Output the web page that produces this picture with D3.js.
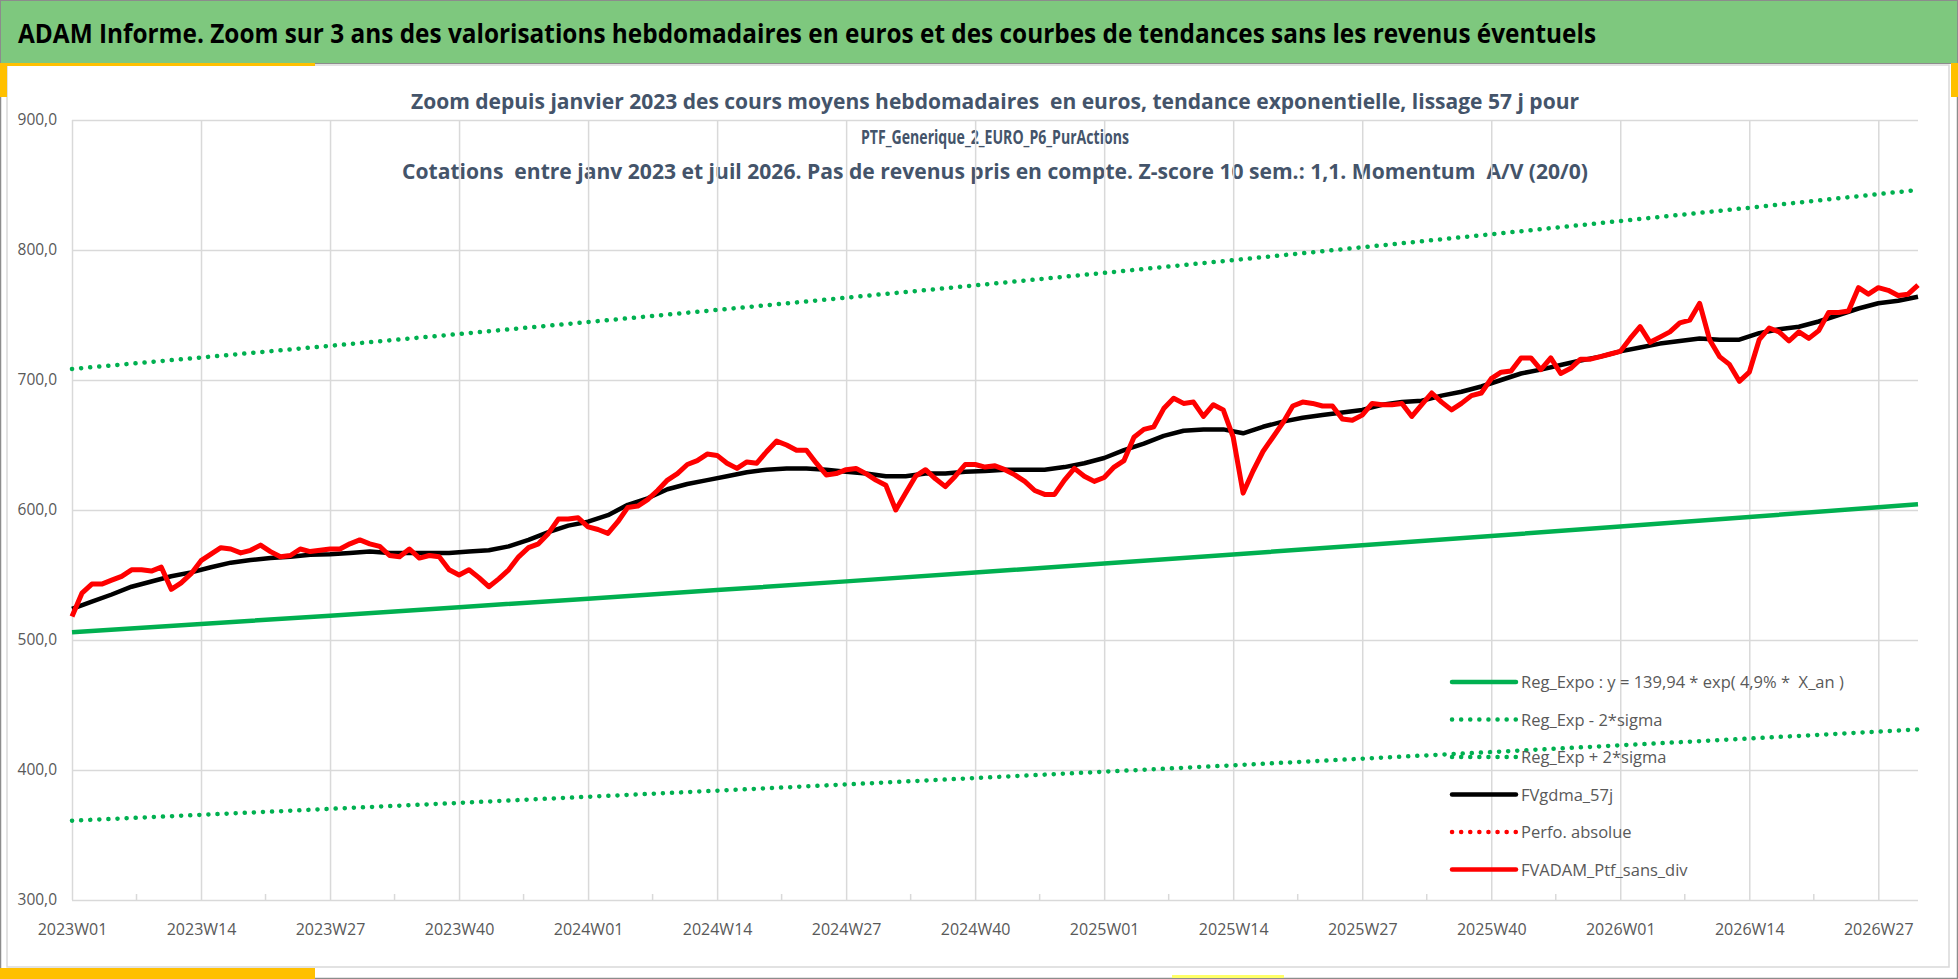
<!doctype html>
<html>
<head>
	<meta charset="UTF-8">
	<title>ADAM Informe - Zoom 3 ans</title>
	<script src="https://d3js.org/d3.v7.min.js"></script>
	<style>
		body { margin: 0; background: #ffffff; }
		svg { display: block; font-family: "Open Sans", "DejaVu Sans", sans-serif; }
		text { white-space: pre; }
	</style>
</head>
<body>
<script>

	// ---- Data ----

	// Weekly categories : years and number of weeks shown in each
	var weekYears = [2023, 2024, 2025, 2026];
	var weeksInYear = [52, 52, 52, 31];

	// Labels shown on the x axis (one every 13 weeks)
	var tickLabels = ["2023W01", "2023W14", "2023W27", "2023W40", "2024W01", "2024W14", "2024W27",
		"2024W40", "2025W01", "2025W14", "2025W27", "2025W40", "2026W01", "2026W14", "2026W27"];

	// Y axis ticks
	var yTicks = [300, 400, 500, 600, 700, 800, 900];

	// Regression curves read at each 13 weeks tick (+ last week)
	var trendWeeks = ["2023W01", "2023W14", "2023W27", "2023W40", "2024W01", "2024W14", "2024W27", "2024W40",
		"2025W01", "2025W14", "2025W27", "2025W40", "2026W01", "2026W14", "2026W27", "2026W31"];
	var regExpo  = [506.0, 512.3, 518.7, 525.2, 531.8, 538.4, 545.1, 551.9, 558.8, 565.8, 572.9, 580.0, 587.3, 594.6, 602.1, 604.4];
	var regMinus = [361.0, 365.5, 370.1, 374.7, 379.4, 384.1, 388.9, 393.8, 398.7, 403.6, 408.7, 413.8, 419.0, 424.2, 429.5, 431.2];
	var regPlus  = [708.5, 717.3, 726.3, 735.4, 744.6, 753.9, 763.3, 772.8, 782.4, 792.2, 802.1, 812.1, 822.3, 832.5, 843.0, 846.2];

	// FVgdma_57j, read every 2 weeks (2023W01, W03, W05 ...)
	var gdma57 = [
		524, 529.5, 535, 541, 545, 549, 552, 556, 559.5, 561.5, 563, 564, 565.5,
		566, 567, 568, 567, 567, 567, 567, 568, 569, 572, 577, 583, 588,
		591, 596, 604, 609, 616, 620, 623, 626, 629, 631, 632, 632, 631,
		629.5, 628, 626, 626, 628, 628, 629.5, 630, 631, 631, 631, 633, 636,
		640, 646, 651, 657, 661, 662, 662, 659, 664, 668, 671, 673, 675,
		677, 681, 683, 684, 688, 691, 695, 700, 705, 708, 711.5, 715, 718,
		722, 725, 728, 730, 732, 731, 731, 736, 739, 741, 745, 750, 755,
		759, 761, 764];

	// FVADAM_Ptf_sans_div, weekly
	var ptfSansDiv = [
		518, 536, 543, 543, 546, 549, 554, 554, 553, 556, 539, 544, 551,
		561, 566, 571, 570, 567, 569, 573, 568, 564, 565, 570, 568, 569,
		570, 570, 574, 577, 574, 572, 565, 564, 570, 563, 565, 564, 554,
		550, 554, 548, 541, 547, 554, 564, 571, 574, 582, 593, 593, 594,
		587, 585, 582, 591, 602, 603, 608, 615, 623, 628, 635, 638, 643,
		642, 636, 632, 637, 636, 645, 653, 650, 646, 646, 636, 627, 628,
		631, 632, 628, 623, 619, 600, 613, 626, 631, 624, 618, 626, 635,
		635, 633, 634, 631, 627, 622, 615, 612, 612, 623, 632, 626, 622,
		625, 633, 638, 656, 662, 664, 678, 686, 682, 683, 672, 681, 677,
		656, 613, 630, 645, 656, 667, 680, 683, 682, 680, 680, 670, 669,
		673, 682, 681, 681, 682, 672, 681, 690, 683, 677, 682, 688, 690,
		701, 706, 707, 717, 717, 708, 717, 705, 709, 716, 716, 718, 720,
		722, 732, 741, 729, 733, 737, 744, 746, 759, 731, 718, 712, 699,
		706, 731, 740, 737, 730, 737, 732, 738, 752, 752, 753, 771, 766,
		771, 769, 765, 766, 773];

	var legendNames = ["Reg_Expo : y = 139,94 * exp( 4,9% *  X_an )", "Reg_Exp - 2*sigma", "Reg_Exp + 2*sigma",
		"FVgdma_57j", "Perfo. absolue", "FVADAM_Ptf_sans_div"];

	var headerTitle = "ADAM Informe. Zoom sur 3 ans des valorisations hebdomadaires en euros et des courbes de tendances sans les revenus éventuels";
	var chartTitle = [
		"Zoom depuis janvier 2023 des cours moyens hebdomadaires  en euros, tendance exponentielle, lissage 57 j pour",
		"PTF_Generique_2_EURO_P6_PurActions",
		"Cotations  entre janv 2023 et juil 2026. Pas de revenus pris en compte. Z-score 10 sem.: 1,1. Momentum  A/V (20/0)"
	];

	// ---- Build the week categories ----
	var weeks = [];
	weekYears.forEach(function(yr, k) {
		for (var w = 1; w <= weeksInYear[k]; w++) {
			weeks.push(yr + "W" + (w < 10 ? "0" + w : w));
		}
	});

	// ---- Layout ----
	var W = 1958, H = 979;
	var plot = {left: 72, right: 1918, top: 120, bottom: 900};

	var svg = d3.select("body").append("svg")
		.attr("width", W)
		.attr("height", H);

	// page frame, header band and yellow accents
	svg.append("rect").attr("x", 0.5).attr("y", 0.5).attr("width", W - 1).attr("height", H - 1)
		.attr("fill", "#ffffff").attr("stroke", "#8c8c8c").attr("stroke-width", 1.5);
	svg.append("rect").attr("x", 7).attr("y", 65).attr("width", 1942).attr("height", 902)
		.attr("fill", "none").attr("stroke", "#d9d9d9").attr("stroke-width", 1.5);
	svg.append("rect").attr("x", 0).attr("y", 0).attr("width", W).attr("height", 63)
		.attr("fill", "#7ec87e");
	svg.append("rect").attr("x", 0.5).attr("y", 0.5).attr("width", W - 1).attr("height", 63)
		.attr("fill", "none").attr("stroke", "#8c8c8c").attr("stroke-width", 1);
	svg.append("rect").attr("x", 0).attr("y", 63).attr("width", 315).attr("height", 3).attr("fill", "#ffc000");
	svg.append("rect").attr("x", 0).attr("y", 63).attr("width", 7).attr("height", 34).attr("fill", "#ffc000");
	svg.append("rect").attr("x", 1951).attr("y", 63).attr("width", 7).attr("height", 34).attr("fill", "#ffc000");
	svg.append("rect").attr("x", 0).attr("y", 968).attr("width", 315).attr("height", 11).attr("fill", "#ffc000");
	svg.append("rect").attr("x", 1172).attr("y", 975).attr("width", 112).attr("height", 3).attr("fill", "#ffff66");

	svg.append("text")
		.attr("x", 18).attr("y", 43)
		.attr("textLength", 1578).attr("lengthAdjust", "spacingAndGlyphs")
		.style("font-size", "27px").style("font-weight", 700).style("fill", "#000000")
		.text(headerTitle);

	// chart title, three lines
	var titleWidths = [1168, 268, 1186];
	var titleSizes = [21, 20, 21];
	chartTitle.forEach(function(t, k) {
		svg.append("text")
			.attr("x", 995).attr("y", 109 + k * 35)
			.attr("text-anchor", "middle")
			.attr("textLength", titleWidths[k]).attr("lengthAdjust", "spacingAndGlyphs")
			.style("font-size", titleSizes[k] + "px").style("font-weight", 700).style("fill", "#44546a")
			.text(t);
	});

	// ---- Scales ----
	var x = d3.scalePoint().domain(weeks).range([plot.left, plot.right]);
	var y = d3.scaleLinear().domain([300, 900]).range([plot.bottom, plot.top]);

	// ---- Gridlines and axes ----
	var yAxis = d3.axisLeft(y)
		.tickValues(yTicks)
		.tickSize(-(plot.right - plot.left))
		.tickPadding(15)
		.tickFormat(function(d) { return d3.format(".1f")(d).replace(".", ","); });

	var gy = svg.append("g")
		.attr("transform", "translate(" + plot.left + ",0)")
		.call(yAxis);
	gy.select(".domain").remove();
	gy.selectAll(".tick line").attr("stroke", "#d9d9d9").attr("stroke-width", 1.5);
	gy.selectAll(".tick text").style("font-size", "15.5px").style("fill", "#595959")
		.style("font-family", "'Open Sans', sans-serif");

	var xAxis = d3.axisBottom(x)
		.tickValues(tickLabels)
		.tickSize(-(plot.bottom - plot.top))
		.tickPadding(24);

	var gx = svg.append("g")
		.attr("transform", "translate(0," + plot.bottom + ")")
		.call(xAxis);
	gx.select(".domain").remove();
	gx.selectAll(".tick line").attr("stroke", "#d9d9d9").attr("stroke-width", 1.5);
	gx.selectAll(".tick text").style("font-size", "16px").style("fill", "#595959")
		.style("font-family", "'Open Sans', sans-serif");

	// small ticks halfway between labelled ticks
	svg.append("g").selectAll("line")
		.data(d3.pairs(tickLabels))
		.enter().append("line")
		.attr("x1", function(d) { return (x(d[0]) + x(d[1])) / 2; })
		.attr("x2", function(d) { return (x(d[0]) + x(d[1])) / 2; })
		.attr("y1", plot.bottom)
		.attr("y2", plot.bottom - 6)
		.attr("stroke", "#d9d9d9")
		.attr("stroke-width", 1.5);

	// ---- Series ----
	var trendLine = d3.line()
		.x(function(d, k) { return x(trendWeeks[k]); })
		.y(function(d) { return y(d); });

	var dotted = "0.1 9";

	svg.append("path").datum(regExpo)
		.attr("d", trendLine)
		.attr("fill", "none").attr("stroke", "#00b050").attr("stroke-width", 4.5);

	svg.append("path").datum(regMinus)
		.attr("d", trendLine)
		.attr("fill", "none").attr("stroke", "#00b050").attr("stroke-width", 4.5)
		.attr("stroke-linecap", "round").attr("stroke-dasharray", dotted);

	svg.append("path").datum(regPlus)
		.attr("d", trendLine)
		.attr("fill", "none").attr("stroke", "#00b050").attr("stroke-width", 4.5)
		.attr("stroke-linecap", "round").attr("stroke-dasharray", dotted);

	// moving average given every second week
	var gdmaLine = d3.line()
		.x(function(d, k) { return x(weeks[k * 2]); })
		.y(function(d) { return y(d); });

	svg.append("path").datum(gdma57)
		.attr("d", gdmaLine)
		.attr("fill", "none").attr("stroke", "#000000").attr("stroke-width", 4.5)
		.attr("stroke-linejoin", "round");

	var ptfLine = d3.line()
		.x(function(d, k) { return x(weeks[k]); })
		.y(function(d) { return y(d); });

	svg.append("path").datum(ptfSansDiv)
		.attr("d", ptfLine)
		.attr("fill", "none").attr("stroke", "#ff0000").attr("stroke-width", 5)
		.attr("stroke-linejoin", "round");

	// ---- Legend (drawn over the plot, no background) ----
	var legendStyle = [
		{color: "#00b050", dash: null},
		{color: "#00b050", dash: dotted},
		{color: "#00b050", dash: dotted},
		{color: "#000000", dash: null},
		{color: "#ff0000", dash: dotted},
		{color: "#ff0000", dash: null}
	];

	var legend = svg.append("g").attr("transform", "translate(1450,682)");
	legendNames.forEach(function(name, k) {
		var row = legend.append("g").attr("transform", "translate(0," + (k * 37.5) + ")");
		row.append("line")
			.attr("x1", 2).attr("x2", 66).attr("y1", 0).attr("y2", 0)
			.attr("stroke", legendStyle[k].color)
			.attr("stroke-width", 4.5)
			.attr("stroke-linecap", "round")
			.attr("stroke-dasharray", legendStyle[k].dash);
		row.append("text")
			.attr("x", 71).attr("y", 6)
			.style("font-size", "16.5px").style("fill", "#595959")
			.text(name);
	});

</script>
</body>
</html>
